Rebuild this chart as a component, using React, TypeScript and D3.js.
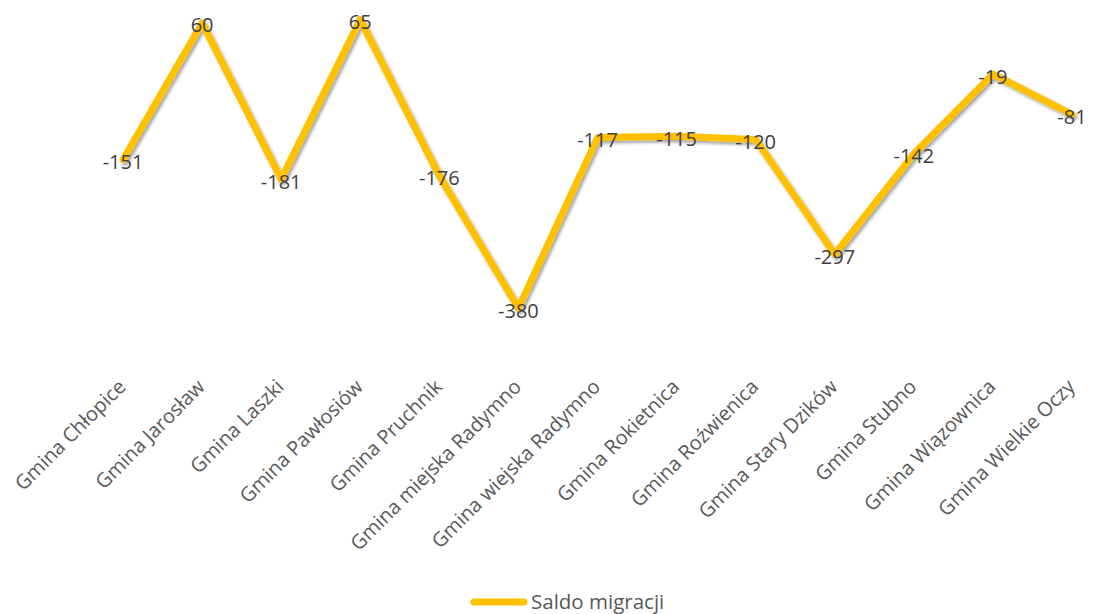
import React from "react";
import * as d3 from "d3";

const categories = [
  "Gmina Chłopice",
  "Gmina Jarosław",
  "Gmina Laszki",
  "Gmina Pawłosiów",
  "Gmina Pruchnik",
  "Gmina miejska Radymno",
  "Gmina wiejska Radymno",
  "Gmina Rokietnica",
  "Gmina Roźwienica",
  "Gmina Stary Dzików",
  "Gmina Stubno",
  "Gmina Wiązownica",
  "Gmina Wielkie Oczy",
];
const saldo = [-151, 60, -181, 65, -176, -380, -117, -115, -120, -297, -142, -19, -81];
const seriesName = "Saldo migracji";

const W = 1094;
const H = 614;
const LINE = "#FFC000";
const FONT = "'Open Sans', sans-serif";

export default function App() {
  const x = d3.scalePoint<string>().domain(categories).range([123, 1072]);
  const y = d3.scaleLinear().domain([-400, 100]).range([321, -3]);
  const data = categories.map((c, i) => ({ c, v: saldo[i] }));
  const line = d3
    .line<{ c: string; v: number }>()
    .x((d) => x(d.c) as number)
    .y((d) => y(d.v));

  return (
    <svg
      width={W}
      height={H}
      style={{ position: "absolute", left: 0, top: 0, background: "#fff" }}
    >
      <defs>
        <filter id="sh" x="-10%" y="-10%" width="120%" height="130%">
          <feDropShadow dx="2" dy="2.5" stdDeviation="1.8" floodColor="#000" floodOpacity="0.35" />
        </filter>
      </defs>
      <path
        d={line(data) || ""}
        fill="none"
        stroke={LINE}
        strokeWidth={7}
        strokeLinejoin="round"
        strokeLinecap="round"
        filter="url(#sh)"
      />
      {data.map((d) => (
        <text
          key={"v" + d.c}
          x={x(d.c)}
          y={y(d.v) + 2}
          textAnchor="middle"
          dominantBaseline="central"
          fontFamily={FONT}
          fontSize={20}
          fill="#404040"
        >
          {d.v}
        </text>
      ))}
      {categories.map((c) => {
        const px = (x(c) as number) + 4;
        const py = 388;
        return (
          <text
            key={"c" + c}
            transform={`translate(${px},${py}) rotate(-45)`}
            textAnchor="end"
            fontFamily={FONT}
            fontSize={20}
            fill="#595959"
          >
            {c}
          </text>
        );
      })}
      <g>
        <line x1={474} x2={524} y1={602} y2={602} stroke={LINE} strokeWidth={7} strokeLinecap="round" />
        <text x={531} y={609} fontFamily={FONT} fontSize={20.5} fill="#595959">
          {seriesName}
        </text>
      </g>
    </svg>
  );
}
